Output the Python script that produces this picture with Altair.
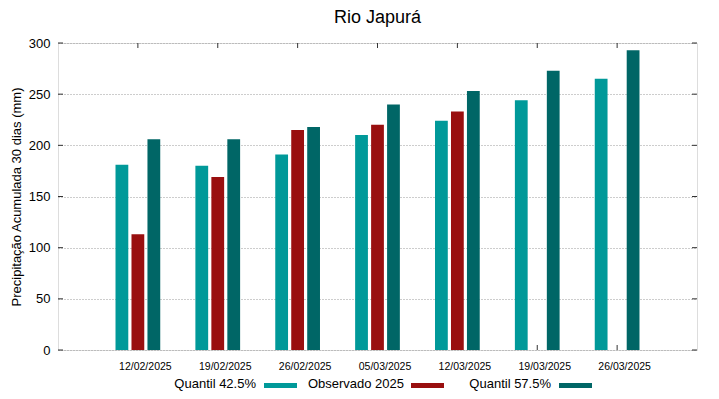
import altair as alt
import pandas as pd

dates = ["12/02/2025", "19/02/2025", "26/02/2025", "05/03/2025",
         "12/03/2025", "19/03/2025", "26/03/2025"]
q425 = [181, 180, 191, 210, 224, 244, 265]
obs = [113, 169, 215, 220, 233, None, None]
q575 = [206, 206, 218, 240, 253, 273, 293]
series_names = ["Quantil 42.5%", "Observado 2025", "Quantil 57.5%"]
series_colors = ["#009999", "#990f0f", "#006666"]
yticks = [0, 50, 100, 150, 200, 250, 300]

FONT = "Liberation Sans"
W, H = 639, 307

rows = []
for i, d in enumerate(dates):
    for s, vals in zip(series_names, [q425, obs, q575]):
        if vals[i] is not None:
            rows.append({"idx": i + 1, "date": d, "serie": s, "valor": vals[i]})
df = pd.DataFrame(rows)
cat_df = pd.DataFrame({"idx": list(range(1, len(dates) + 1)), "date": dates})
ytick_df = pd.DataFrame({"v": yticks})

xscale = alt.Scale(domain=[0, 8], nice=False, zero=False)
yscale = alt.Scale(domain=[0, 300], nice=False)

# bottom ticks (behind bars)
bottom_ticks = alt.Chart(cat_df).mark_rule(color="#333333", strokeWidth=1).encode(
    x=alt.X("idx:Q", scale=xscale, axis=None),
    y=alt.value(H), y2=alt.value(H - 5),
)

bars = alt.Chart(df).transform_calculate(
    off="datum.serie === 'Quantil 42.5%' ? -0.2 : (datum.serie === 'Observado 2025' ? 0 : 0.2)",
    x1="datum.idx + datum.off - 0.08",
    x2="datum.idx + datum.off + 0.08",
).mark_bar(stroke=None).encode(
    x=alt.X("x1:Q", scale=xscale, axis=None),
    x2="x2:Q",
    y=alt.Y("valor:Q", scale=yscale, axis=alt.Axis(
        values=yticks, title="Precipitação Acumulada 30 dias (mm)",
        grid=True, gridDash=[1, 2], gridColor="#9a9a9a", gridWidth=1,
        ticks=False, domain=False, labelPadding=8,
        labelFont=FONT, labelFontSize=13, labelColor="#000000",
        titleFont=FONT, titleFontSize=13, titleFontWeight="normal",
        titleColor="#000000", titlePadding=5)),
    y2=alt.value(H),
    color=alt.Color("serie:N", scale=alt.Scale(domain=series_names, range=series_colors), legend=None),
)

top_ticks = alt.Chart(cat_df).mark_rule(color="#333333", strokeWidth=1).encode(
    x=alt.X("idx:Q", scale=xscale, axis=None),
    y=alt.value(0), y2=alt.value(5),
)
left_ticks = alt.Chart(ytick_df).mark_rule(color="#333333", strokeWidth=1).encode(
    y=alt.Y("v:Q", scale=yscale),
    x=alt.value(0), x2=alt.value(5),
)
right_ticks = alt.Chart(ytick_df).mark_rule(color="#333333", strokeWidth=1).encode(
    y=alt.Y("v:Q", scale=yscale),
    x=alt.value(W - 5), x2=alt.value(W),
)

xlabels = alt.Chart(cat_df).mark_text(font=FONT, fontSize=10.5, color="#000000", dx=7.5).encode(
    x=alt.X("idx:Q", scale=xscale, axis=None),
    y=alt.value(H + 17),
    text="date:N",
)

legend_layers = []
text_right = [198, 346, 493]
sw_left = [206, 353, 501]
for name, col, tx, sx in zip(series_names, series_colors, text_right, sw_left):
    ldf = pd.DataFrame({"name": [name]})
    legend_layers.append(
        alt.Chart(ldf).mark_text(font=FONT, fontSize=13, align="right", baseline="middle", color="#000000").encode(
            x=alt.value(tx), y=alt.value(H + 34), text="name:N"))
    legend_layers.append(
        alt.Chart(ldf).mark_rect(color=col).encode(
            x=alt.value(sx), x2=alt.value(sx + 33), y=alt.value(H + 33), y2=alt.value(H + 38)))

chart = alt.layer(bottom_ticks, bars, top_ticks, left_ticks, right_ticks, xlabels, *legend_layers).properties(
    width=W, height=H,
    title=alt.TitleParams("Rio Japurá", font=FONT, fontSize=18, fontWeight="normal", color="#000000", offset=10),
    autosize=alt.AutoSizeParams(type="none"),
    padding={"left": 50, "top": 35, "right": 14, "bottom": 41},
).configure_view(stroke="#333333", strokeWidth=1).configure(background="white")

chart.save("out.html", embed_options={"renderer": "svg", "actions": False})
